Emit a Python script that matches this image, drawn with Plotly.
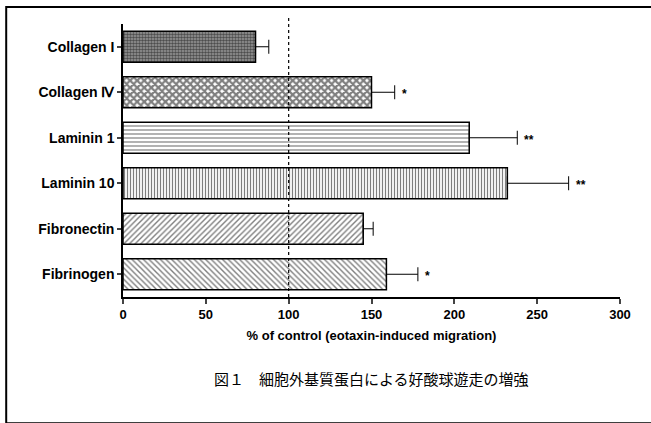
import plotly.graph_objects as go

categories = ["Collagen I", "Collagen Ⅳ", "Laminin 1", "Laminin 10", "Fibronectin", "Fibrinogen"]
values = [80, 150, 209, 232, 145, 159]
errors = [8, 14, 29, 37, 6, 19]
marks = ["", "*", "**", "**", "", "*"]
patterns = [".", "x", "-", "|", "/", "\\"]
pattern_sizes = [3, 5, 4, 3, 4, 4]
pattern_solidity = [0.55, 0.7, 0.3, 0.4, 0.35, 0.35]
bg_colors = ["#9a9a9a", "#ffffff", "#ffffff", "#ffffff", "#ffffff", "#ffffff"]
x_ticks = [0, 50, 100, 150, 200, 250, 300]

fig = go.Figure()
for i, c in enumerate(categories):
    fig.add_trace(go.Bar(
        y=[c], x=[values[i]], orientation="h", width=0.68,
        marker=dict(color=bg_colors[i], line=dict(color="black", width=1.5),
                    pattern=dict(shape=patterns[i], fgcolor="black", bgcolor=bg_colors[i],
                                 size=pattern_sizes[i], solidity=pattern_solidity[i])),
        error_x=dict(type="data", array=[errors[i]], arrayminus=[0], symmetric=False,
                     color="black", thickness=1, width=7),
        showlegend=False,
    ))
    if marks[i]:
        fig.add_annotation(x=values[i] + errors[i], y=c, text="<b>" + marks[i] + "</b>",
                           showarrow=False, xanchor="left", xshift=5, yshift=-2,
                           font=dict(size=12, color="#000000", family="Liberation Sans"))

fig.add_shape(type="line", xref="x", yref="paper", x0=100, x1=100, y0=0, y1=1.03,
              line=dict(color="black", width=1.2, dash="dot"))

# outer frame
fig.add_shape(type="rect", xref="paper", yref="paper", x0=-0.235, x1=1.08, y0=-0.462, y1=1.062,
              line=dict(color="black", width=2), fillcolor="rgba(0,0,0,0)")

fig.add_annotation(text="図１　細胞外基質蛋白による好酸球遊走の増強", xref="paper", yref="paper",
                   x=0.5, y=-0.30, xanchor="center", yanchor="middle", showarrow=False,
                   font=dict(size=15, color="black", family="Noto Sans CJK JP"))

fig.update_layout(
    width=651, height=423,
    margin=dict(l=123, r=31, t=24, b=126),
    paper_bgcolor="white", plot_bgcolor="white",
    bargap=0.32,
    font=dict(family="Liberation Sans", color="black"),
    xaxis=dict(range=[0, 300], tickvals=x_ticks, ticks="outside", ticklen=5, tickwidth=1.5,
               showline=True, linecolor="black", linewidth=1.5, showgrid=False, zeroline=False,
               tickfont=dict(size=13, family="Liberation Sans", color="black", weight="bold"),
               title=dict(text="<b>% of control (eotaxin-induced migration)</b>",
                          font=dict(size=13, family="Liberation Sans"), standoff=10)),
    yaxis=dict(categoryorder="array", categoryarray=categories, autorange="reversed",
               ticks="outside", ticklen=4, tickwidth=1.5, showline=True, linecolor="black",
               linewidth=1.5, showgrid=False,
               tickfont=dict(size=14, family="Liberation Sans", color="black", weight="bold")),
)

fig.write_html("out.html")
